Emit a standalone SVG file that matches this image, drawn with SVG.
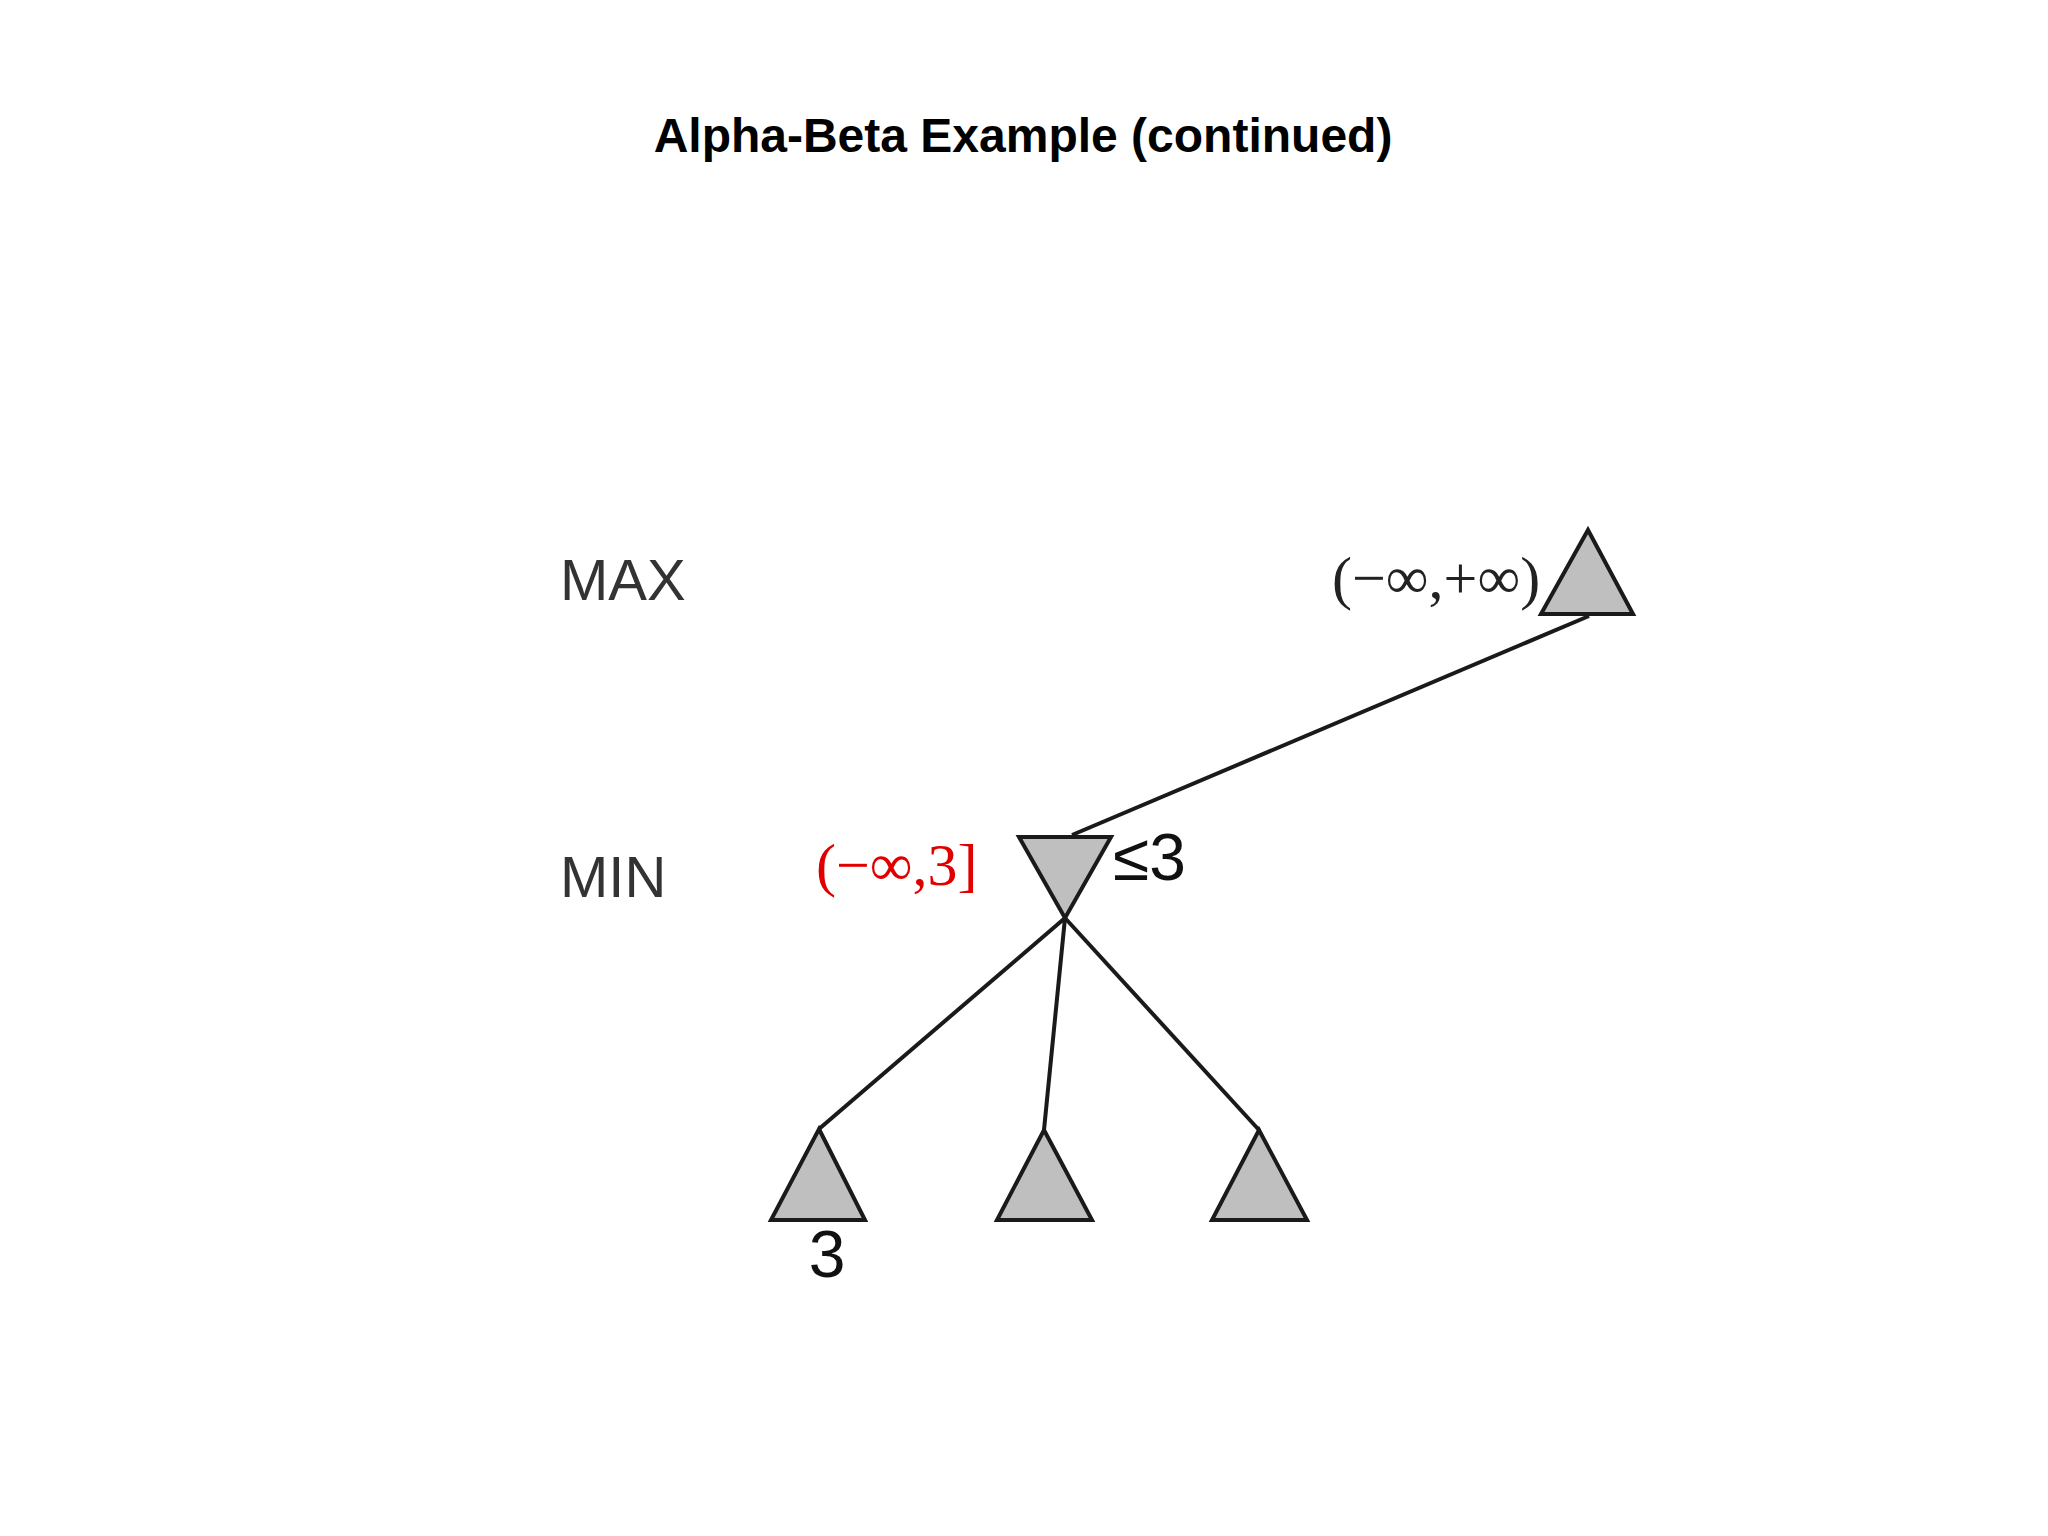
<svg xmlns="http://www.w3.org/2000/svg" width="2048" height="1536" viewBox="0 0 2048 1536">
<style>
.tri{fill:#bfbfbf;stroke:#1a1a1a;stroke-width:4;stroke-linejoin:miter}
.edge{stroke:#1a1a1a;stroke-width:4;fill:none}
.lvl{font-family:"Liberation Sans",Arial,sans-serif;font-size:58px;fill:#333}
.val{font-family:"Liberation Sans",Arial,sans-serif;font-size:66px;fill:#111}
.ser{font-family:"Liberation Serif","Times New Roman",serif;font-size:60px}
</style>
<rect width="2048" height="1536" fill="#fff"/>
<text x="1023" y="152" text-anchor="middle" font-family="Liberation Sans,Arial,sans-serif" font-weight="bold" font-size="48" fill="#000">Alpha-Beta Example (continued)</text>
<text class="lvl" x="560" y="600">MAX</text>
<text class="lvl" x="560" y="897">MIN</text>
<g id="connectors">
<line class="edge" x1="1589" y1="616" x2="1072" y2="835"/>
<line class="edge" x1="1065" y1="918" x2="819" y2="1129"/>
<line class="edge" x1="1065" y1="918" x2="1044" y2="1130"/>
<line class="edge" x1="1065" y1="918" x2="1259" y2="1130"/>
</g>
<g id="max-root">
<polygon class="tri" points="1588,530 1633,614 1541,614"/>
<text class="ser" x="1332" y="598" fill="#222">(−∞,+∞)</text>
</g>
<g id="min-node">
<polygon class="tri" points="1019,837 1111,837 1065,918"/>
<text class="ser" x="816" y="885" fill="#e00000">(−∞,3]</text>
<text class="val" x="1113" y="880">≤3</text>
</g>
<g id="leaf1">
<polygon class="tri" points="819,1129 865,1220 771,1220"/>
<text class="val" x="827" y="1277" text-anchor="middle">3</text>
</g>
<g id="leaf2">
<polygon class="tri" points="1044,1130 1092,1220 997,1220"/>
</g>
<g id="leaf3">
<polygon class="tri" points="1259,1130 1307,1220 1212,1220"/>
</g>
</svg>
